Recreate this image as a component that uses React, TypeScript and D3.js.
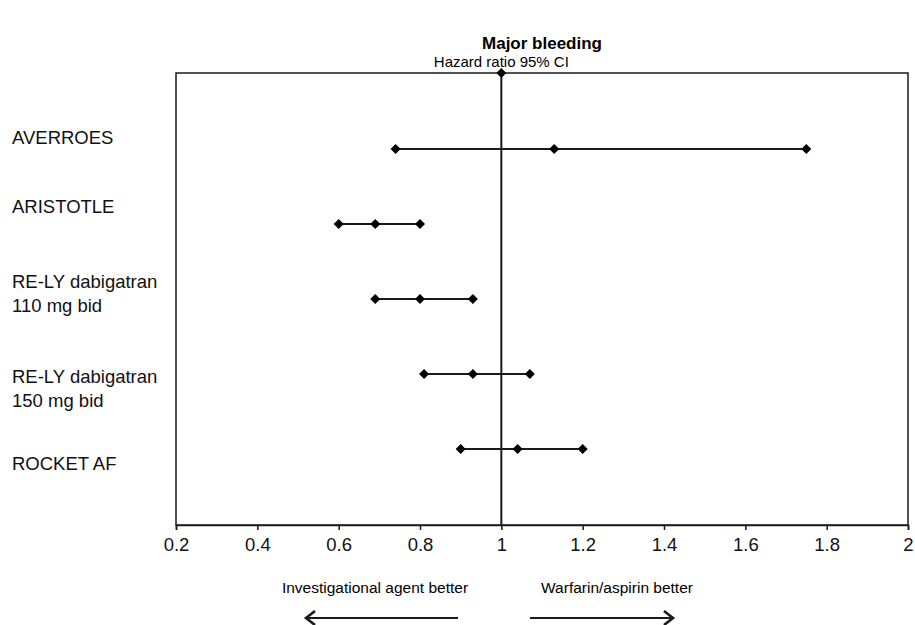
import React, { useEffect, useRef } from "react";
import * as d3 from "d3";

// forest plot data (hazard ratio with 95% CI)
const studies = ["AVERROES", "ARISTOTLE", "RE-LY dabigatran|110 mg bid", "RE-LY dabigatran|150 mg bid", "ROCKET AF"];
const hazardRatio = [1.13, 0.69, 0.8, 0.93, 1.04];
const ciLower = [0.74, 0.6, 0.69, 0.81, 0.9];
const ciUpper = [1.75, 0.8, 0.93, 1.07, 1.2];
const xTicks = [0.2, 0.4, 0.6, 0.8, 1, 1.2, 1.4, 1.6, 1.8, 2];

// baseline of first label line relative to the row (layout only)
const labelShift = [-5, -11, -11, 9, 21];

const W = 915;
const H = 625;
const box = { left: 176, right: 908, top: 73, bottom: 525 };
const FONT = "'Liberation Sans', Arial, sans-serif";

export default function App() {
  const ref = useRef<SVGSVGElement>(null);

  useEffect(() => {
    const svg = d3.select(ref.current);
    svg.selectAll("*").remove();

    const x = d3.scaleLinear().domain([0.2, 2]).range([box.left, box.right]);
    const y = d3
      .scalePoint<string>()
      .domain(studies)
      .range([149, 449]);

    svg
      .append("text")
      .attr("x", (box.left + box.right) / 2)
      .attr("y", 49)
      .attr("text-anchor", "middle")
      .attr("font-family", FONT)
      .attr("font-size", 17)
      .attr("font-weight", "bold")
      .text("Major bleeding");

    svg
      .append("text")
      .attr("x", x(1))
      .attr("y", 67)
      .attr("text-anchor", "middle")
      .attr("font-family", FONT)
      .attr("font-size", 15)
      .text("Hazard ratio 95% CI");

    svg
      .append("rect")
      .attr("x", box.left)
      .attr("y", box.top)
      .attr("width", box.right - box.left)
      .attr("height", box.bottom - box.top)
      .attr("fill", "none")
      .attr("stroke", "#1a1a1a")
      .attr("stroke-width", 1.5);

    // x axis
    const axis = svg
      .append("g")
      .attr("transform", `translate(0,${box.bottom})`)
      .call(
        d3
          .axisBottom(x)
          .tickValues(xTicks)
          .tickSize(5)
          .tickPadding(8)
          .tickFormat((d) => String(d))
      );
    axis.select(".domain").attr("stroke", "#1a1a1a").attr("stroke-width", 1.5);
    axis.selectAll(".tick line").attr("stroke", "#1a1a1a").attr("stroke-width", 1.5);
    axis
      .selectAll(".tick text")
      .attr("font-family", FONT)
      .attr("font-size", 18.5)
      .attr("fill", "#111");

    // reference line at HR = 1
    svg
      .append("line")
      .attr("x1", x(1))
      .attr("x2", x(1))
      .attr("y1", box.top)
      .attr("y2", box.bottom)
      .attr("stroke", "#1a1a1a")
      .attr("stroke-width", 2);

    const diamond = d3.symbol().type(d3.symbolDiamond2).size(64);

    svg
      .append("path")
      .attr("d", diamond()!)
      .attr("transform", `translate(${x(1)},${box.top})`)
      .attr("fill", "#000");

    studies.forEach((s, i) => {
      const yy = y(s)!;
      svg
        .append("line")
        .attr("x1", x(ciLower[i]))
        .attr("x2", x(ciUpper[i]))
        .attr("y1", yy)
        .attr("y2", yy)
        .attr("stroke", "#1a1a1a")
        .attr("stroke-width", 2.2);
      [ciLower[i], hazardRatio[i], ciUpper[i]].forEach((v) => {
        svg
          .append("path")
          .attr("d", diamond()!)
          .attr("transform", `translate(${x(v)},${yy})`)
          .attr("fill", "#000");
      });

      const lines = s.split("|");
      const t = svg
        .append("text")
        .attr("font-family", FONT)
        .attr("font-size", 18.5)
        .attr("fill", "#111");
      lines.forEach((ln, j) => {
        t.append("tspan")
          .attr("x", 12)
          .attr("y", yy + labelShift[i] + j * 23.5)
          .text(ln);
      });
    });

    // direction notes
    svg
      .append("text")
      .attr("x", 375)
      .attr("y", 593)
      .attr("text-anchor", "middle")
      .attr("font-family", FONT)
      .attr("font-size", 15.5)
      .text("Investigational agent better");
    svg
      .append("text")
      .attr("x", 617)
      .attr("y", 593)
      .attr("text-anchor", "middle")
      .attr("font-family", FONT)
      .attr("font-size", 15.5)
      .text("Warfarin/aspirin better");

    const arrow = (x1: number, x2: number) => {
      const yy = 618;
      const dir = Math.sign(x2 - x1);
      svg
        .append("line")
        .attr("x1", x1)
        .attr("x2", x2 - dir * 1)
        .attr("y1", yy)
        .attr("y2", yy)
        .attr("stroke", "#1a1a1a")
        .attr("stroke-width", 2.2);
      svg
        .append("path")
        .attr("d", `M${x2 - dir * 9},${yy - 7} L${x2},${yy} L${x2 - dir * 9},${yy + 7}`)
        .attr("fill", "none")
        .attr("stroke", "#1a1a1a")
        .attr("stroke-width", 2.6);
    };
    arrow(458, 306);
    arrow(530, 673);
  }, []);

  return (
    <svg
      ref={ref}
      width={W}
      height={H}
      style={{ display: "block", position: "fixed", left: 0, top: 0, background: "#fff" }}
    />
  );
}
